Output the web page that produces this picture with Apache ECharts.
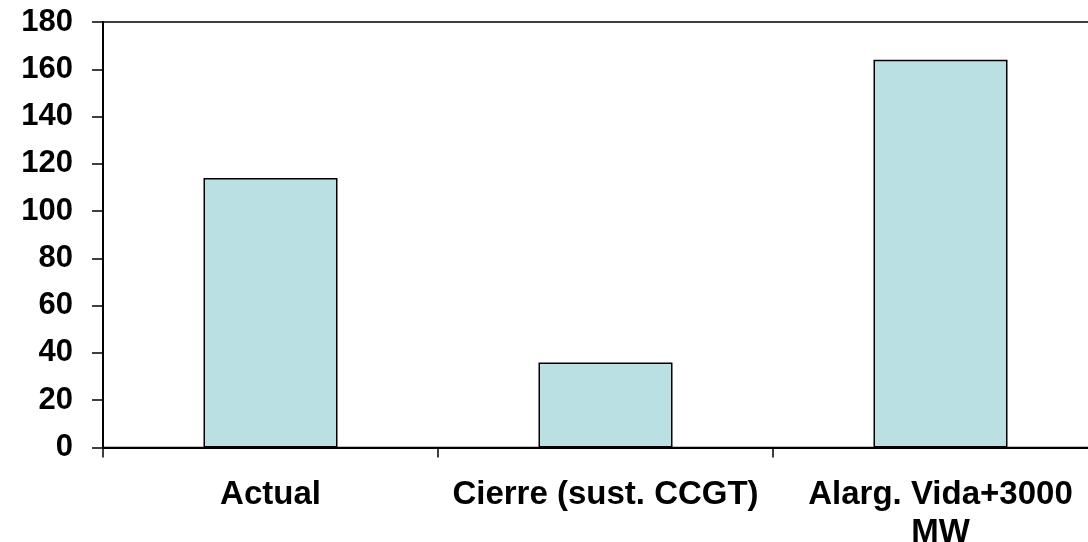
<!DOCTYPE html>
<html>
<head>
<meta charset="utf-8">
<script src="https://cdn.jsdelivr.net/npm/echarts@6/dist/echarts.min.js"></script>
<style>
  html, body { margin: 0; padding: 0; background: #ffffff; }
  #chart { width: 1088px; height: 542px; }
</style>
</head>
<body>
<div id="chart"></div>
<script>
// Scenario names along the horizontal axis
const categories = ['Actual', 'Cierre (sust. CCGT)', 'Alarg. Vida+3000\nMW'];
// One value per scenario
const values = [114, 36, 164];
// Value axis range and step
const yMin = 0;
const yMax = 180;
const yStep = 20;

const fontFamily = '"Liberation Sans", Arial, Helvetica, sans-serif';

const chart = echarts.init(document.getElementById('chart'), null, { renderer: 'canvas' });
chart.setOption({
  animation: false,
  backgroundColor: '#ffffff',
  grid: {
    left: 103,
    top: 22,
    right: -20,
    bottom: 94.5,
    containLabel: false,
    outerBoundsMode: 'none',
    show: true,
    borderColor: '#000000',
    borderWidth: 1.5,
    backgroundColor: 'transparent'
  },
  xAxis: {
    type: 'category',
    data: categories,
    boundaryGap: true,
    axisLine: { show: true, lineStyle: { color: '#000000', width: 2 } },
    axisTick: { show: true, inside: false, length: 10, alignWithLabel: false, lineStyle: { color: '#000000', width: 1.5 } },
    axisLabel: {
      color: '#000000',
      fontFamily: fontFamily,
      fontWeight: 'bold',
      fontSize: 33,
      lineHeight: 38,
      margin: 28,
      interval: 0,
      align: 'center'
    },
    splitLine: { show: false }
  },
  yAxis: {
    type: 'value',
    min: yMin,
    max: yMax,
    interval: yStep,
    axisLine: { show: true, lineStyle: { color: '#000000', width: 2 } },
    axisTick: { show: true, inside: false, length: 11, lineStyle: { color: '#000000', width: 1.5 } },
    axisLabel: {
      color: '#000000',
      fontFamily: fontFamily,
      fontWeight: 'bold',
      fontSize: 31,
      margin: 30
    },
    splitLine: { show: false }
  },
  series: [{
    type: 'bar',
    data: values,
    barCategoryGap: '60%',
    itemStyle: {
      color: '#BBE0E3',
      borderColor: '#000000',
      borderWidth: 1.5
    }
  }]
});
</script>
</body>
</html>
